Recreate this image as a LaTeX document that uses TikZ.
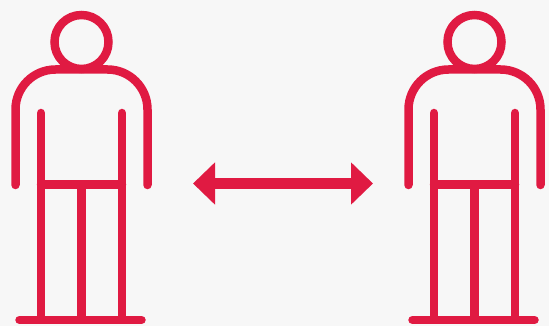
\documentclass[tikz,border=0pt]{standalone}
\usetikzlibrary{arrows.meta}
\definecolor{figred}{HTML}{E01A42}
\definecolor{paper}{HTML}{F7F7F7}

\begin{document}
\begin{tikzpicture}[
  x=1pt,y=-1pt,
  outline/.style={draw=figred,line width=8.5pt,line cap=round},
  span/.style={{Triangle[length=22pt,width=41pt]}-{Triangle[length=22pt,width=41pt]},
    draw=figred,fill=figred,line width=10pt},
  person/.pic={
    \draw[outline] (0,42) circle (27);
    \draw[outline,rounded corners=40pt] (-66,185) -- (-66,69.5) -- (66,69.5) -- (66,185);
    \draw[outline] (-40.5,113) -- (-40.5,316);
    \draw[outline] (40.5,113) -- (40.5,316);
    \draw[outline] (-40.5,184.5) -- (40.5,184.5);
    \draw[outline] (0,184.5) -- (0,318);
    \draw[outline] (-62,320) -- (60,320);
  }
]
  \fill[paper] (0,0) rectangle (549,326);
  \pic at (81.5,0) {person};
  \pic at (474.5,0) {person};

  \coordinate (lefttip) at (193,183.5);
  \coordinate (righttip) at (373,183.5);
  \draw[span] (lefttip) -- (righttip);
\end{tikzpicture}
\end{document}
